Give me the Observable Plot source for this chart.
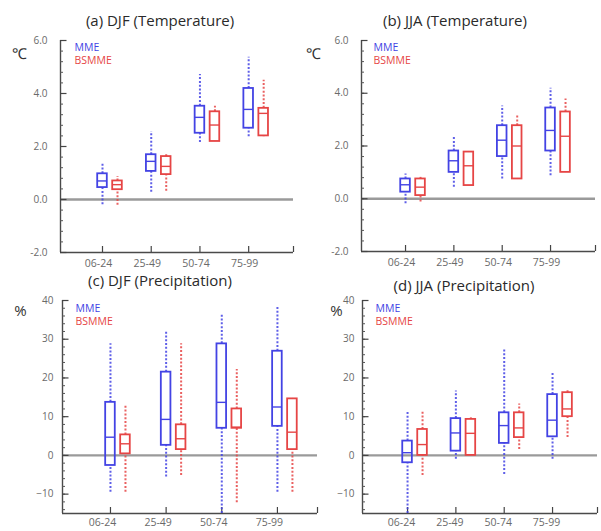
<!DOCTYPE html>
<html><head><meta charset="utf-8">
<script src="https://cdn.jsdelivr.net/npm/d3@7"></script>
<script src="https://cdn.jsdelivr.net/npm/@observablehq/plot@0.6"></script>
<style>
body{margin:0;background:#fff;}
#root{position:relative;width:601px;height:531px;overflow:hidden;font-family:"Open Sans",sans-serif;}
.panel{position:absolute;}
.title{position:absolute;font-size:15px;color:#2a2a2a;white-space:nowrap;transform:translate(-50%,-50%);}
</style></head><body><div id="root"></div>
<script>
// Categories (time periods)
const periods = ["06-24", "25-49", "50-74", "75-99"];
const models = ["MME", "BSMME"];

// Each row: [whisker low, box low, median, box high, whisker high] per period
const djfTempMME   = [[-0.20, 0.45, 0.70, 0.97, 1.37], [0.27, 1.06, 1.44, 1.69, 2.56], [2.15, 2.50, 3.10, 3.52, 4.72], [2.37, 2.69, 3.40, 4.19, 5.37]];
const djfTempBSMME = [[-0.22, 0.37, 0.56, 0.70, 0.87], [0.31, 0.94, 1.25, 1.62, 1.69], [2.19, 2.19, 2.81, 3.31, 3.52], [2.37, 2.40, 3.25, 3.44, 4.50]];
const jjaTempMME   = [[-0.19, 0.25, 0.53, 0.75, 0.94], [0.44, 1.00, 1.44, 1.81, 2.37], [0.75, 1.60, 2.22, 2.77, 3.52], [0.87, 1.81, 2.59, 3.44, 4.19]];
const jjaTempBSMME = [[-0.12, 0.12, 0.44, 0.75, 0.81], [0.50, 0.50, 1.25, 1.77, 1.77], [0.75, 0.75, 2.00, 2.77, 3.19], [1.00, 1.00, 2.37, 3.29, 3.78]];
const djfPrecMME   = [[-9.5, -2.6, 4.7, 13.7, 28.8], [-5.6, 2.6, 9.3, 21.5, 31.8], [-15.0, 7.0, 13.7, 28.8, 36.5], [-9.5, 7.5, 12.5, 26.9, 38.5]];
const djfPrecBSMME = [[-9.5, 0.4, 3.0, 5.3, 12.9], [-5.2, 1.5, 4.3, 7.9, 28.8], [-12.2, 7.0, 7.3, 12.0, 22.2], [-9.5, 1.5, 6.0, 14.6, 14.6]];
const jjaPrecMME   = [[-15.0, -1.9, 0.7, 3.7, 11.4], [-1.0, 1.1, 5.8, 9.5, 16.6], [-4.9, 3.1, 7.7, 11.0, 27.3], [-1.0, 4.8, 9.1, 15.7, 21.3]];
const jjaPrecBSMME = [[-5.2, 0.0, 2.8, 6.7, 11.2], [0.0, 0.0, 5.7, 9.3, 9.7], [1.5, 4.6, 7.1, 11.0, 13.3], [4.6, 10.0, 12.0, 16.2, 17.2]];

// Axis ticks and labels
const tempTicks = [-2, 0, 2, 4, 6];
const tempTickLabels = ["-2.0", "0.0", "2.0", "4.0", "6.0"];
const tempMinor = d3.range(-2, 6.001, 0.4);
const precTicks = [-10, 0, 10, 20, 30, 40];
const precTickLabels = ["\u221210", "0", "10", "20", "30", "40"];
const precMinor = d3.range(-14, 40.001, 2);

const titles = ["(a) DJF (Temperature)", "(b) JJA (Temperature)", "(c) DJF (Precipitation)", "(d) JJA (Precipitation)"];
const units = ["\u2103", "\u2103", "%", "%"];

const BLUE = "#4343e4", RED = "#e64545";
const colorOf = {MME: BLUE, BSMME: RED};
const offsetOf = {MME: 0, BSMME: 15};

const panels = [
  {title: titles[0], tx: 160, ty: 20, unit: units[0], mme: djfTempMME, bs: djfTempBSMME, left: 0, top: 0, width: 300, height: 275,
   ml: 60, mr: 7, mt: 40, mb: 23, xDomain: [0.138, 4.92], yDomain: [-2, 6], ticks: tempTicks, labels: tempTickLabels, minor: tempMinor,
   yGap: 13, xPad: 7, labelDx: -4, unitDx: -41, unitDy: 8, legDx: 14, legDy: 3},
  {title: titles[1], tx: 455, ty: 20, unit: units[1], mme: jjaTempMME, bs: jjaTempBSMME, left: 300, top: 0, width: 301, height: 275,
   ml: 61, mr: 6, mt: 40, mb: 24, xDomain: [0.089, 4.93], yDomain: [-2, 6], ticks: tempTicks, labels: tempTickLabels, minor: tempMinor,
   yGap: 13, xPad: 7, labelDx: -4, unitDx: -48, unitDy: 8, legDx: 12, legDy: 3},
  {title: titles[2], tx: 160, ty: 280, unit: units[2], mme: djfPrecMME, bs: djfPrecBSMME, left: 0, top: 265, width: 330, height: 266,
   ml: 62, mr: 13, mt: 35, mb: 18, xDomain: [0.138, 4.72], yDomain: [-15, 40], ticks: precTicks, labels: precTickLabels, minor: precMinor,
   yGap: 9, xPad: 5, labelDx: -8, unitDx: -42, unitDy: 5, legDx: 13, legDy: 4},
  {title: titles[3], tx: 464, ty: 285, unit: units[3], mme: jjaPrecMME, bs: jjaPrecBSMME, left: 300, top: 265, width: 301, height: 266,
   ml: 62, mr: 4, mt: 35, mb: 18, xDomain: [0.068, 4.93], yDomain: [-15, 40], ticks: precTicks, labels: precTickLabels, minor: precMinor,
   yGap: 8, xPad: 5, labelDx: -6, unitDx: -26, unitDy: 5, legDx: 13, legDy: 4}
];

function rowsFor(arr, model) {
  return periods.map((p, i) => {
    const [lo, q1, med, q3, hi] = arr[i];
    return {pos: i + 1, period: p, model, lo, q1, med, q3, hi};
  });
}

function makePanel(c) {
  const [x0, x1] = c.xDomain;
  const [y0, y1] = c.yDomain;
  const pxPerX = (c.width - c.ml - c.mr) / (x1 - x0);
  const pxPerY = (c.height - c.mt - c.mb) / (y1 - y0);
  const half = 4.8 / pxPerX;
  const xt = [1, 2, 3, 4, x1];
  const marks = [
    Plot.ruleY([0], {stroke: "#9a9a9a", strokeWidth: 2.4}),
    Plot.ruleX([x0], {stroke: "#4a4a4a", strokeWidth: 1.4}),
    Plot.ruleY([y0], {stroke: "#4a4a4a", strokeWidth: 1.4}),
    // inward minor / major ticks on the left axis
    Plot.ruleY(c.minor, {y: d => d, x1: () => x0, x2: () => x0 + 3 / pxPerX, stroke: "#555", strokeWidth: 1}),
    Plot.ruleY(c.ticks, {y: d => d, x1: () => x0, x2: () => x0 + 6.5 / pxPerX, stroke: "#444", strokeWidth: 1.2}),
    // inward ticks on the bottom axis
    Plot.ruleX(xt, {x: d => d, y1: () => y0, y2: () => y0 + 6 / pxPerY, stroke: "#444", strokeWidth: 1.2}),
    Plot.axisY(c.ticks, {anchor: "left", label: null, tickSize: 0, tickPadding: c.yGap, fill: "#6a6a6a", fontSize: 10,
      tickFormat: d => c.labels[c.ticks.indexOf(d)]}),
    Plot.axisX([1, 2, 3, 4], {anchor: "bottom", label: null, tickSize: 0, tickPadding: c.xPad, fill: "#6a6a6a", fontSize: 10.5, dx: c.labelDx,
      tickFormat: d => periods[d - 1]})
  ];
  for (const [arr, model] of [[c.mme, "MME"], [c.bs, "BSMME"]]) {
    const rows = rowsFor(arr, model);
    const col = colorOf[model], dx = offsetOf[model];
    marks.push(
      Plot.ruleX(rows, {x: "pos", y1: "lo", y2: "q1", stroke: col, strokeWidth: 2, strokeDasharray: "2,1.8", strokeOpacity: 0.85, dx}),
      Plot.ruleX(rows, {x: "pos", y1: "q3", y2: "hi", stroke: col, strokeWidth: 2, strokeDasharray: "2,1.8", strokeOpacity: 0.85, dx}),
      Plot.rect(rows, {x1: d => d.pos - half, x2: d => d.pos + half, y1: "q1", y2: "q3", fill: "white", fillOpacity: 0, stroke: col, strokeWidth: 1.8, dx}),
      Plot.ruleY(rows, {y: "med", x1: d => d.pos - half, x2: d => d.pos + half, stroke: col, strokeWidth: 1.4, dx})
    );
  }
  marks.push(
    Plot.text([c.unit], {text: d => d, frameAnchor: "top-left", dx: c.unitDx, dy: c.unitDy, fontSize: 15, fill: "#333", textAnchor: "middle"}),
    Plot.text([models[0]], {text: d => d, frameAnchor: "top-left", dx: c.legDx, dy: c.legDy, fontSize: 10.5, fill: BLUE, textAnchor: "start"}),
    Plot.text([models[1]], {text: d => d, frameAnchor: "top-left", dx: c.legDx, dy: c.legDy + 13, fontSize: 10.5, fill: RED, textAnchor: "start"})
  );
  return Plot.plot({
    width: c.width, height: c.height,
    marginLeft: c.ml, marginRight: c.mr, marginTop: c.mt, marginBottom: c.mb,
    x: {domain: c.xDomain, label: null},
    y: {domain: c.yDomain, label: null},
    style: {background: "transparent", overflow: "visible", fontFamily: "'Open Sans', sans-serif"},
    marks
  });
}

const root = document.getElementById("root");
for (const c of panels) {
  const svg = makePanel(c);
  svg.classList.add("panel");
  svg.style.left = c.left + "px";
  svg.style.top = c.top + "px";
  root.appendChild(svg);
  const t = document.createElement("div");
  t.className = "title";
  t.textContent = c.title;
  t.style.left = c.tx + "px";
  t.style.top = c.ty + "px";
  root.appendChild(t);
}
</script></body></html>
